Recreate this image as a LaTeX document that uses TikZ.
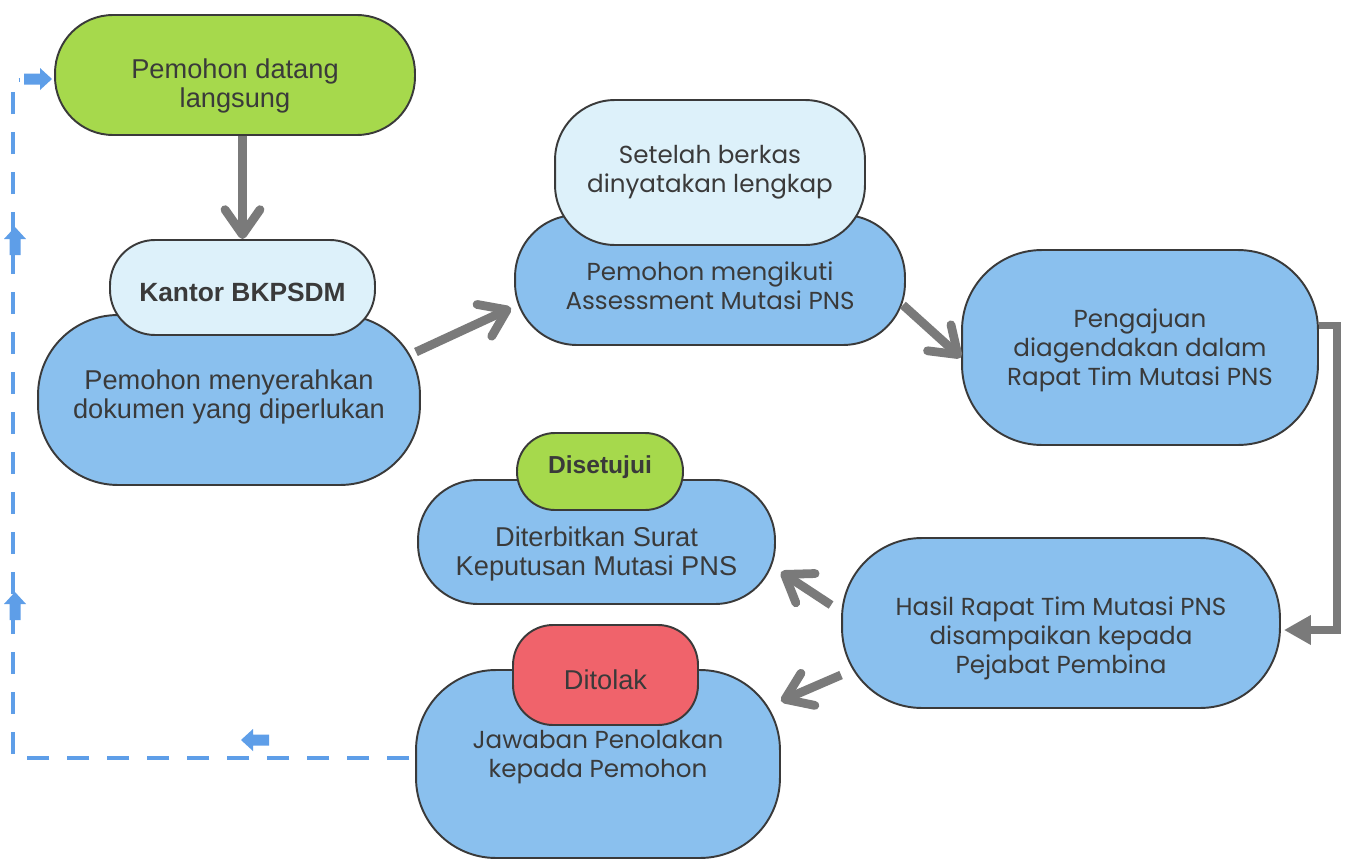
\documentclass[tikz,border=0pt]{standalone}
\usepackage{fontspec}
\usetikzlibrary{arrows.meta}
\newfontfamily\gothic{Poppins}
\newfontfamily\arialf{Liberation Sans}
\definecolor{cGreen}{HTML}{A6D94C}
\definecolor{cLight}{HTML}{DDF1FA}
\definecolor{cBlue}{HTML}{8AC0EE}
\definecolor{cRed}{HTML}{F0636B}
\definecolor{cDash}{HTML}{5E9EE8}
\definecolor{cGray}{HTML}{7A7A7A}
\definecolor{cLine}{HTML}{3A3A3A}
\definecolor{cText}{HTML}{3A3A3A}
\begin{document}
\begin{tikzpicture}[x=0.02cm,y=-0.02cm,
  box/.style={draw=cLine, line width=1.1pt, inner sep=0pt},
  gtext/.style={font=\gothic\fontsize{14}{16.5}\selectfont, text=cText, align=center},
  atext/.style={font=\arialf\fontsize{15.5}{16}\selectfont, text=cText, align=center},
  btext/.style={font=\arialf\bfseries\fontsize{15}{16}\selectfont, text=cText, align=center},
  flow/.style={draw=cGray, line width=5pt, -{Straight Barb[length=0.5cm,width=0.7cm,round]}},
  elbow/.style={draw=cGray, line width=4.5pt, -{Triangle[length=0.54cm,width=0.56cm]}},
  loopline/.style={draw=cDash, line width=2.8pt, dash pattern=on 0.44cm off 0.36cm},
  blkarrow/.pic={\fill[cDash] (-14,-5.5) -- (2,-5.5) -- (2,-11) -- (14,0) -- (2,11) -- (2,5.5) -- (-14,5.5) -- cycle;}
]
\useasboundingbox (0,0) rectangle (1350,862);
\fill[white] (0,0) rectangle (1350,862);

% top-left start
\node[box, fill=cGreen, minimum width=7.2cm, minimum height=2.4cm, rounded corners=1.16cm,
  label={[atext,yshift=-0.22cm]center:Pemohon datang\\langsung}] (n1) at (235,75) {};

% submission
\node[box, fill=cBlue, minimum width=7.64cm, minimum height=3.4cm, rounded corners=1.6cm,
  label={[atext,yshift=0.06cm]center:Pemohon menyerahkan\\dokumen yang diperlukan}] (n3) at (229,400) {};
\node[box, fill=cLight, minimum width=5.3cm, minimum height=1.9cm, rounded corners=0.9cm,
  label={[btext,yshift=-0.1cm]center:Kantor BKPSDM}] (n2) at (242.5,287.5) {};

% assessment
\node[box, fill=cBlue, minimum width=7.8cm, minimum height=2.6cm, rounded corners=1.24cm,
  label={[gtext,yshift=-0.12cm]center:Pemohon mengikuti\\Assessment Mutasi PNS}] (n5) at (710,280) {};
\node[box, fill=cLight, minimum width=6.2cm, minimum height=2.9cm, rounded corners=1.2cm,
  label={[gtext]center:Setelah berkas\\dinyatakan lengkap}] (n4) at (710,172.5) {};

% meeting
\node[box, fill=cBlue, minimum width=7.12cm, minimum height=3.9cm, rounded corners=1.6cm,
  label={[gtext,yshift=-0.06cm]center:Pengajuan\\diagendakan dalam\\Rapat Tim Mutasi PNS}] (n6) at (1140,347.5) {};

% result
\node[box, fill=cBlue, minimum width=8.76cm, minimum height=3.4cm, rounded corners=1.6cm,
  label={[gtext,yshift=-0.3cm]center:Hasil Rapat Tim Mutasi PNS\\disampaikan kepada\\Pejabat Pembina}] (n9) at (1061,623) {};

% approved
\node[box, fill=cBlue, minimum width=7.14cm, minimum height=2.48cm, rounded corners=1.2cm,
  label={[atext,yshift=-0.24cm]center:Diterbitkan Surat\\Keputusan Mutasi PNS}] (n8) at (596.5,542) {};
\node[box, fill=cGreen, minimum width=3.32cm, minimum height=1.54cm, rounded corners=0.76cm,
  label={[btext,font=\arialf\bfseries\fontsize{14}{16}\selectfont,yshift=0.08cm]center:Disetujui}] (n7) at (600,471.5) {};

% rejected
\node[box, fill=cBlue, minimum width=7.28cm, minimum height=3.76cm, rounded corners=1.6cm,
  label={[gtext,yshift=0.14cm]center:Jawaban Penolakan\\kepada Pemohon}] (n11) at (598,764) {};
\node[box, fill=cRed, minimum width=3.7cm, minimum height=2cm, rounded corners=0.8cm,
  label={[atext,yshift=-0.1cm]center:Ditolak}] (n10) at (605.5,675) {};

% gray flow arrows
\draw[flow] (n1.south -| n2.north) -- (n2.north);
\draw[flow] ([shift={(-5,-48)}]n3.east) -- ([shift={(-3,28)}]n5.west);
\draw[flow] ([shift={(-3,25)}]n5.east) -- ([shift={(0,10)}]n6.west);
\draw[elbow] ([shift={(0,-22)}]n6.east) -- ++(18,0) |- ([shift={(3,7)}]n9.east);
\draw[flow] ([shift={(-10,-18)}]n9.west) -- ([shift={(5,30)}]n8.east);
\draw[flow] ([shift={(0,52)}]n9.west) -- ([shift={(0,-63)}]n11.east);

% blue dashed return loop
\coordinate (dtop) at (13,80);
\draw[loopline] ([shift={(-6,-6)}]n11.west) -| (dtop) -- ++(6,0);
\pic at (38,79) {blkarrow};
\pic[rotate=90] at (15,241) {blkarrow};
\pic[rotate=90] at (15,606) {blkarrow};
\pic[rotate=180] at (255,740) {blkarrow};
\end{tikzpicture}
\end{document}
